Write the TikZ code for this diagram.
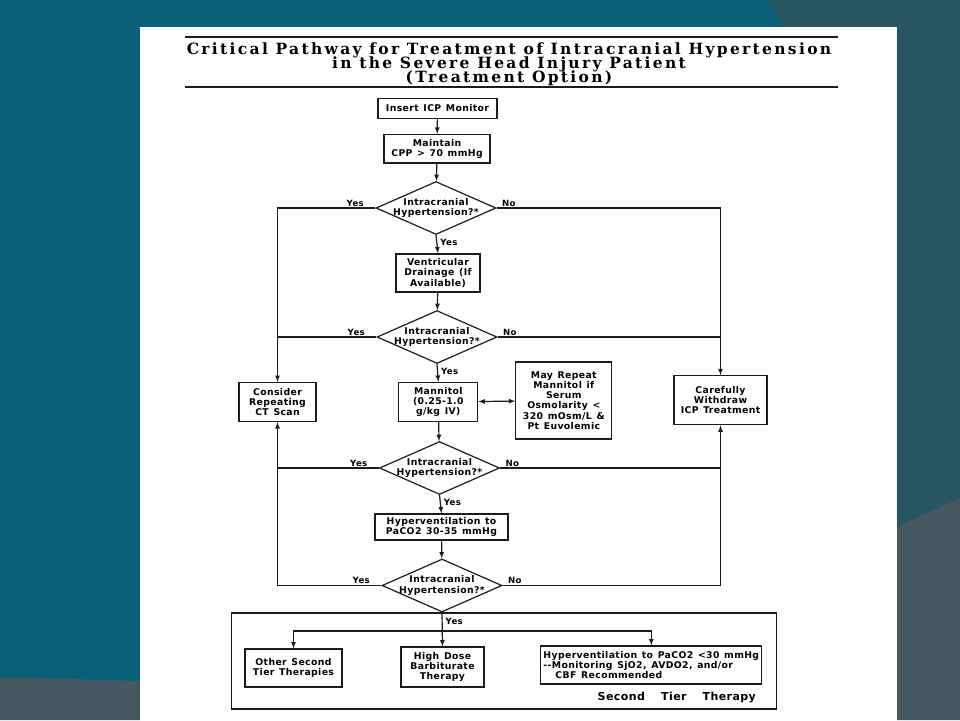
\documentclass[tikz,border=0pt]{standalone}
\usepackage{fontspec}
\setmainfont{DejaVu Sans}[BoldFont={DejaVu Sans Bold},LetterSpace=4,WordSpace=1.3]
\newfontfamily\titlefont{DejaVu Serif}[BoldFont={DejaVu Serif Bold},LetterSpace=15]
\usetikzlibrary{shapes.geometric,arrows}
\definecolor{slideteal}{HTML}{0A5F79}
\definecolor{slidedark}{HTML}{2A5562}
\definecolor{slidegray}{HTML}{45585F}
\definecolor{scanink}{HTML}{1C1C1C}

\begin{document}
\begin{tikzpicture}[
x=1pt,y=-1pt,
box/.style={
  draw=scanink,
  line width=1.2pt,
  rectangle,
  align=center,
  inner sep=0pt,
  font=\fontsize{9.3}{10.2}\selectfont\bfseries
  },
decision/.style={
  draw=scanink,
  line width=1.2pt,
  diamond,
  inner sep=0pt,
  minimum width=120pt,
  minimum height=53pt
  },
dectext/.style={
  align=center,
  inner sep=0pt,
  font=\fontsize{9.3}{10.5}\selectfont\bfseries
  },
lbl/.style={
  inner sep=1pt,
  font=\fontsize{8.6}{9}\selectfont\bfseries
  },
link/.style={
  draw=scanink,
  line width=1.2pt
  },
>=latex
]
\useasboundingbox (0,0) rectangle (960,720);
\fill[slideteal] (0,0) rectangle (960,720);
\fill[slidedark] (768,0) -- (960,0) -- (960,498) -- (897,527) -- (897,27) -- (785,27) -- cycle;
\fill[slidegray] (897,527) -- (960,498) -- (960,720) -- (897,720) -- cycle;
\fill[slidegray] (0,677) -- (140,681) -- (140,720) -- (0,720) -- cycle;
\fill[white] (140,27) rectangle (897,720);

\draw[scanink,line width=1.7pt] (185,37) -- (838,37);
\draw[scanink,line width=1.7pt] (185,87) -- (838,87);
\node[align=center,inner sep=0pt,font={\titlefont\fontsize{15.5}{14}\selectfont\bfseries\lineskiplimit-6pt}] (title) at (509,64.5)
  {Critical Pathway for Treatment of Intracranial Hypertension\\in the Severe Head Injury Patient\\(Treatment Option)};

\node[box,minimum width=119pt,minimum height=19.5pt] (ins) at (437.5,108.4) {Insert ICP Monitor};
\node[box,minimum width=106pt,minimum height=28.5pt] (mnt) at (437,148.7) {Maintain\\CPP > 70 mmHg};
\node[decision] (dec1) at (436,208) {};
\node[dectext] (dec1t) at (dec1) {Intracranial\\Hypertension?*};
\node[box,minimum width=84pt,minimum height=38pt] (vnt) at (438,273) {Ventricular\\Drainage (If\\Available)};
\node[decision] (dec2) at (437,337) {};
\node[dectext] (dec2t) at (dec2) {Intracranial\\Hypertension?*};
\node[box,minimum width=77pt,minimum height=39pt] (cons) at (277.5,402) {Consider\\Repeating\\CT Scan};
\node[box,minimum width=79pt,minimum height=39pt] (man) at (438.3,402) {Mannitol\\(0.25-1.0\\g/kg IV)};
\node[box,minimum width=96pt,minimum height=77pt] (rep) at (563.8,400.5) {May Repeat\\Mannitol if\\Serum\\Osmolarity <\\320 mOsm/L \&\\Pt Euvolemic};
\node[box,minimum width=93pt,minimum height=49pt] (care) at (720.5,400.3) {Carefully\\Withdraw\\ICP Treatment};
\node[decision] (dec3) at (439.5,468) {};
\node[dectext] (dec3t) at (dec3) {Intracranial\\Hypertension?*};
\node[box,minimum width=133pt,minimum height=26pt] (hyp) at (441.5,527) {Hyperventilation to\\PaCO2 30-35 mmHg};
\node[decision] (dec4) at (442,585.5) {};
\node[dectext] (dec4t) at (dec4) {Intracranial\\Hypertension?*};

\node[box,minimum width=545pt,minimum height=96pt] (tier) at (504,661) {};
\node[box,minimum width=97pt,minimum height=38pt] (oth) at (293.5,668) {Other Second\\Tier Therapies};
\node[box,minimum width=83pt,minimum height=40pt] (hig) at (442.5,667) {High Dose\\Barbiturate\\Therapy};
\node[box,minimum width=221pt,minimum height=38pt,align=left] (hvb) at (651.3,665)
  {Hyperventilation to PaCO2 <30 mmHg\\-{}-Monitoring SjO2, AVDO2, and/or\\\hspace*{12pt}CBF Recommended};
\node[lbl,anchor=south east,font=\fontsize{11}{11}\selectfont\bfseries] (tiername) at ([xshift=-20pt,yshift=6pt]tier.south east)
  {Second\hspace{16pt}Tier\hspace{16pt}Therapy};
\coordinate (fork) at (442,631);

\draw[link,->] (ins) -- (mnt);
\draw[link,->] (mnt) -- (dec1);
\draw[link,->] (dec1.west) node[lbl,anchor=south east,xshift=-10pt] {Yes} -| (cons.north);
\draw[link,->] (dec1.east) node[lbl,anchor=south west,xshift=4pt] {No} -| (care.north);
\draw[link,->] (dec1.south) -- node[lbl,anchor=west,pos=0.4,xshift=2pt] {Yes} (vnt.north);
\draw[link,->] (vnt) -- (dec2);
\draw[link] (dec2.west) node[lbl,anchor=south east,xshift=-10pt] {Yes} -- (dec2.west -| cons.north);
\draw[link] (dec2.east) node[lbl,anchor=south west,xshift=4pt] {No} -- (dec2.east -| care.north);
\draw[link,->] (dec2.south) -- node[lbl,anchor=west,pos=0.4,xshift=2pt] {Yes} (man.north);
\draw[link,<->] (man) -- (rep);
\draw[link,->] (man) -- (dec3);
\draw[link] (dec3.west) node[lbl,anchor=south east,xshift=-10pt] {Yes} -- (dec3.west -| cons.south);
\draw[link] (dec3.east) node[lbl,anchor=south west,xshift=4pt] {No} -- (dec3.east -| care.south);
\draw[link,->] (dec3.south) -- node[lbl,anchor=west,pos=0.4,xshift=2pt] {Yes} (hyp.north);
\draw[link,->] (hyp) -- (dec4);
\draw[link,->] (dec4.west) node[lbl,anchor=south east,xshift=-10pt] {Yes} -| (cons.south);
\draw[link,->] (dec4.east) node[lbl,anchor=south west,xshift=4pt] {No} -| (care.south);
\draw[link,->] (dec4.south) -- node[lbl,anchor=west,pos=0.26,xshift=2pt] {Yes} (hig.north);
\draw[link,->] (fork) -| (oth.north);
\draw[link,->] (fork) -| (hvb.north);
\end{tikzpicture}
\end{document}
